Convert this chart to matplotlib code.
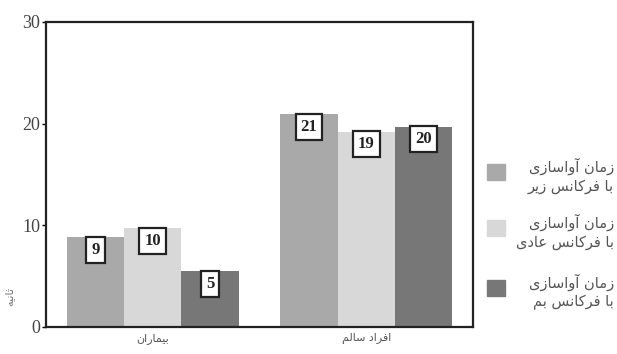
import numpy as np
import matplotlib
matplotlib.use('Agg')
import matplotlib.pyplot as plt

# ==========================================
# data
# ==========================================
groups = ['بیماران', 'افراد سالم']
series_names = [
    ['زمان آواسازی', 'با فرکانس زیر'],
    ['زمان آواسازی', 'با فرکانس عادی'],
    ['زمان آواسازی', 'با فرکانس بم'],
]
low_freq = [8.8, 20.9]
normal_freq = [9.7, 19.2]
bass_freq = [5.5, 19.7]
box_labels = [['9', '21'], ['10', '19'], ['5', '20']]
y_ticks = [0, 10, 20, 30]
y_label = 'ثانیه'

colors = ['#a9a9a9', '#d8d8d8', '#777777']

# ==========================================
# minimal persian shaping (matplotlib has no RTL support)
# ==========================================
FORMS = {
    'ا': (0xFE8D, 0xFE8E, None, None),
    'آ': (0xFE81, 0xFE82, None, None),
    'ب': (0xFE8F, 0xFE90, 0xFE91, 0xFE92),
    'پ': (0xFB56, 0xFB57, 0xFB58, 0xFB59),
    'ت': (0xFE95, 0xFE96, 0xFE97, 0xFE98),
    'ث': (0xFE99, 0xFE9A, 0xFE9B, 0xFE9C),
    'د': (0xFEA9, 0xFEAA, None, None),
    'ر': (0xFEAD, 0xFEAE, None, None),
    'ز': (0xFEAF, 0xFEB0, None, None),
    'س': (0xFEB1, 0xFEB2, 0xFEB3, 0xFEB4),
    'ع': (0xFEC9, 0xFECA, 0xFECB, 0xFECC),
    'ف': (0xFED1, 0xFED2, 0xFED3, 0xFED4),
    'ق': (0xFED5, 0xFED6, 0xFED7, 0xFED8),
    'ک': (0xFB8E, 0xFB8F, 0xFB90, 0xFB91),
    'ل': (0xFEDD, 0xFEDE, 0xFEDF, 0xFEE0),
    'م': (0xFEE1, 0xFEE2, 0xFEE3, 0xFEE4),
    'ن': (0xFEE5, 0xFEE6, 0xFEE7, 0xFEE8),
    'ه': (0xFEE9, 0xFEEA, 0xFEEB, 0xFEEC),
    'و': (0xFEED, 0xFEEE, None, None),
    'ی': (0xFBFC, 0xFBFD, 0xFBFE, 0xFBFF),
}


def joins_next(c):
    return c in FORMS and FORMS[c][2] is not None


def shape(text):
    out = []
    for i, c in enumerate(text):
        if c not in FORMS:
            out.append(c)
            continue
        prev = text[i - 1] if i > 0 else ' '
        nxt = text[i + 1] if i + 1 < len(text) else ' '
        from_prev = joins_next(prev)
        to_next = joins_next(c) and nxt in FORMS
        iso, fin, ini, med = FORMS[c]
        if from_prev and to_next:
            out.append(chr(med))
        elif from_prev:
            out.append(chr(fin))
        elif to_next:
            out.append(chr(ini))
        else:
            out.append(chr(iso))
    return ''.join(out)[::-1]


fa_font = ['DejaVu Sans']
num_font = ['Liberation Serif', 'DejaVu Serif']

# ==========================================
# plot
# ==========================================
fig = plt.figure(figsize=(6.17, 3.54), dpi=100)
ax = fig.add_axes([0.0746, 0.0763, 0.692, 0.862])

x = np.arange(len(groups))
w = 0.268
all_series = [low_freq, normal_freq, bass_freq]
for i, vals in enumerate(all_series):
    xs = x + (i - 1) * w
    ax.bar(xs, vals, width=w, color=colors[i], edgecolor='none', zorder=2)
    for xi, v, lab in zip(xs, vals, box_labels[i]):
        ax.annotate(lab, (xi, v), xytext=(0, -9), textcoords='offset points',
                    ha='center', va='center', fontsize=12, fontweight='bold',
                    family=num_font, color='#222222', zorder=3,
                    bbox=dict(boxstyle='square,pad=0.3', fc='white',
                              ec='#222222', lw=1.6))

ax.set_xlim(-0.5, 1.5)
ax.set_ylim(0, 30)
ax.set_yticks(y_ticks)
ax.set_yticklabels([str(t) for t in y_ticks], family=num_font, fontsize=13,
                   color='#444444')
ax.tick_params(axis='y', length=3, width=1, pad=1, direction='out')
ax.set_xticks(x)
ax.set_xticklabels([shape(g) for g in groups], family=fa_font, fontsize=8,
                   color='#555555')
ax.tick_params(axis='x', length=0, pad=4)
for s in ax.spines.values():
    s.set_linewidth(1.6)
    s.set_color('#222222')

ax.set_ylabel(shape(y_label), family=fa_font, fontsize=8, color='#777777')
ax.yaxis.set_label_coords(-0.075, 0.1)

# legend, drawn by hand like the original
sq_centers = [172, 228, 288]  # pixel rows of the legend squares
for i, (lines, yc) in enumerate(zip(series_names, sq_centers)):
    yy = 1 - yc / 354
    fig.patches.append(plt.Rectangle((0.789, yy - 0.022), 0.029, 0.044,
                                     transform=fig.transFigure,
                                     color=colors[i]))
    fig.text(0.995, yy + 0.015, shape(lines[0]), family=fa_font, fontsize=10.5,
             color='#555555', ha='right', va='center')
    fig.text(0.995, yy - 0.04, shape(lines[1]), family=fa_font, fontsize=10.5,
             color='#555555', ha='right', va='center')

fig.savefig('out.png', dpi=100)
